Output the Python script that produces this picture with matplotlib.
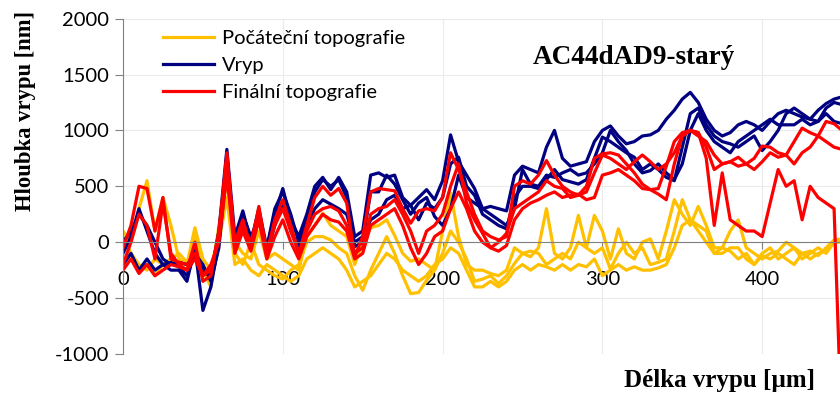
import numpy as np
import matplotlib
matplotlib.use("Agg")
import matplotlib.pyplot as plt

plt.rcParams["axes.unicode_minus"] = False

# scratch position [um], 5 um step
delka = np.arange(0, 451, 5)

# Počáteční topografie (3 scratches) [nm]
poc_1 = [100, 0, 300, 550, 100, 400, 150, -150, -200, 130, -150, -250, 100, 650, 0, -100, -150, 100, -150, -100,
         -150, -200, -250, 50, 150, 260, 150, 100, 50, -200, 0, 130, 150, 200, 60, -100, -170, -150, -200, -250,
         100, 440, 50, -200, -250, -250, -280, -300, -250, -50, -100, -130, -50, 300, -100, -150, -50, 240, -50, 240,
         100, -150, 120, -100, -150, 0, 30, -150, 100, 380, 250, 150, 320, 150, -50, -50, 100, 200, -50, -100,
         -150, -100, -80, 0, -50, -100, -80, -120, -50, 20, 30]
poc_2 = [50, -100, -200, -250, -150, -200, -150, -100, -180, 0, -250, -400, 150, 550, -100, -200, 0, -200, -250, -300,
         -330, -250, -200, 0, 50, 50, 20, -50, -100, -300, -430, -250, -100, 50, -100, -300, -460, -450, -340, -250,
         -100, 100, 0, -150, -350, -330, -300, -370, -300, -190, -100, -80, -100, -200, -150, -100, -150, 0, -50, -100,
         -50, -240, -100, 0, -100, -50, -200, -180, -150, 100, 380, 200, 100, 0, -100, -50, -80, -150, -100, -200,
         -100, -50, -150, -100, -50, -150, -100, -50, -100, 0, 0]
poc_3 = [-200, -100, -250, -200, -300, -200, -150, -200, -250, 50, -300, -300, 0, 400, -200, -150, -250, -300, -200, -250,
         -300, -350, -300, -150, -100, -50, -100, -150, -250, -400, -350, -300, -200, -100, -150, -250, -300, -350, -300, -200,
         -150, -50, -100, -250, -400, -400, -350, -400, -350, -250, -200, -250, -200, -220, -250, -200, -250, -200, -220, -150,
         -300, -250, -200, -250, -220, -250, -250, -230, -200, -50, 150, 200, 150, 100, -100, -100, -50, -50, -150, -200,
         -120, -150, -100, -150, -200, -100, -150, -100, -80, 0, 20]

# Vryp (3 scratches) [nm]
vryp_1 = [0, 100, 250, 150, 0, -150, -200, -180, -200, -150, -250, -300, 100, 830, 50, 280, 0, 300, -50, 250,
          480, 200, 50, 250, 500, 580, 470, 580, 450, 50, 100, 600, 620, 580, 600, 400, 330, 400, 470, 380,
          550, 960, 720, 600, 480, 300, 320, 300, 280, 600, 680, 650, 620, 850, 1000, 750, 680, 700, 720, 900,
          1000, 1040, 950, 880, 900, 950, 960, 1000, 1100, 1180, 1280, 1340, 1250, 1100, 1000, 950, 980, 1050, 1080, 1050,
          1000, 1080, 1150, 1180, 1150, 1120, 1100, 1180, 1240, 1280, 1300]
vryp_2 = [-100, 50, 300, 100, -100, -200, -180, -220, -300, -100, -200, -350, -50, 700, 0, 150, -50, 250, -100, 150,
          350, 100, -50, 150, 300, 380, 340, 300, 250, 0, 50, 200, 250, 380, 420, 300, 330, 200, 350, 300,
          400, 700, 760, 500, 420, 250, 200, 150, 120, 400, 500, 500, 480, 560, 650, 560, 540, 520, 560, 750,
          940, 900, 850, 800, 760, 650, 700, 650, 580, 550, 850, 1150, 1200, 1050, 950, 900, 880, 850, 900, 950,
          820, 900, 1000, 1150, 1200, 1150, 1100, 1080, 1150, 1080, 1060]
vryp_3 = [-200, -100, -250, -150, -250, -200, -250, -250, -350, -50, -610, -400, 0, 780, -50, 250, 50, 200, -50, 300,
          450, 250, 0, 200, 450, 560, 500, 560, 400, -40, 0, 450, 450, 600, 520, 380, 250, 350, 400, 230,
          150, 300, 600, 400, 350, 300, 250, 200, 150, 300, 650, 520, 500, 600, 580, 620, 650, 600, 620, 700,
          800, 1000, 900, 820, 700, 620, 640, 700, 620, 560, 700, 1000, 1150, 1000, 900, 850, 800, 900, 950, 1000,
          1050, 1100, 1050, 1050, 1050, 1100, 1050, 1080, 1200, 1250, 1230]

# Finální topografie (3 scratches) [nm]
fin_1 = [-50, 150, 500, 480, 100, 400, -150, -180, -200, -100, -300, -250, 50, 800, 0, 200, -50, 320, -100, 200,
         380, 150, -100, 150, 400, 500, 420, 480, 350, -130, 50, 450, 480, 470, 460, 300, 170, 280, 300, 280,
         400, 800, 650, 450, 250, 100, 50, 20, 50, 500, 550, 520, 600, 730, 600, 500, 450, 420, 500, 750,
         790, 800, 780, 700, 620, 520, 470, 480, 680, 900, 980, 1000, 950, 900, 780, 700, 720, 760, 700, 750,
         860, 850, 800, 780, 900, 1020, 980, 950, 1080, 1060, 1000]
fin_2 = [-200, 0, 250, 150, -150, 350, -100, -200, -250, 0, -350, -300, 100, 750, -50, 150, 0, 280, -80, 150,
         300, 100, -100, 100, 250, 300, 320, 280, 150, -100, -50, 250, 300, 320, 380, 250, 100, -100, 100, 150,
         250, 500, 700, 350, 200, 80, -50, 0, 80, 300, 350, 400, 450, 550, 500, 480, 400, 420, 450, 620,
         780, 750, 700, 650, 720, 780, 720, 650, 700, 800, 950, 1000, 980, 850, 650, 700, 720, 680, 700, 650,
         720, 800, 760, 780, 700, 800, 850, 950, 900, 850, 830]
fin_3 = [-250, -150, -280, -200, -300, -250, -200, -220, -250, -150, -300, -200, 0, 600, -100, 100, -80, 200, -150, 50,
         200, 0, -150, 50, 150, 250, 200, 180, 100, -150, -100, 150, 200, 250, 300, 150, -50, -200, -100, 50,
         100, 300, 450, 300, 100, 0, -50, -80, -30, 200, 300, 350, 380, 420, 450, 400, 420, 430, 380, 400,
         600, 620, 650, 600, 550, 480, 470, 430, 380, 700, 950, 1000, 980, 750, 150, 620, 200, 150, 100, 100,
         50, 350, 650, 500, 550, 200, 500, 400, 350, 300, -1800]

poc_color = "#FFC000"
vryp_color = "#000080"
fin_color = "#FF0000"

fig = plt.figure(figsize=(8.4, 3.94), dpi=100)
ax = fig.add_axes([123 / 840, 40 / 394, 1 - 123 / 840, 335.4 / 394])

lw = 2.3
for i, s in enumerate([poc_1, poc_2, poc_3]):
    ax.plot(delka, s, color=poc_color, lw=lw, label="Počáteční topografie" if i == 0 else None)
for i, s in enumerate([vryp_1, vryp_2, vryp_3]):
    ax.plot(delka, s, color=vryp_color, lw=lw, label="Vryp" if i == 0 else None)
for i, s in enumerate([fin_1, fin_2, fin_3]):
    ax.plot(delka, s, color=fin_color, lw=lw, label="Finální topografie" if i == 0 else None)

ax.set_xlim(0, 448.7)
ax.set_ylim(-1000, 2000)
ax.set_yticks(np.arange(-1000, 2001, 500))
ax.set_xticks([0, 100, 200, 300, 400])
ax.grid(True, color="#EBEBEB", lw=0.8)
ax.set_axisbelow(True)

for side in ["top", "right"]:
    ax.spines[side].set_visible(False)
ax.spines["bottom"].set_position(("data", 0))
ax.spines["bottom"].set_color("#808080")
ax.spines["left"].set_color("#808080")
ax.tick_params(axis="y", direction="out", length=6, color="#808080", labelsize=14.5, pad=4)
ax.tick_params(axis="x", direction="out", length=5, color="#808080", labelsize=14.5, pad=16)
for lab in ax.get_xticklabels() + ax.get_yticklabels():
    lab.set_fontfamily("Lato")

ax.legend(loc="upper left", bbox_to_anchor=(0.045, 0.99), frameon=False,
          prop={"family": "Lato", "size": 14.5}, handlelength=2.5, handletextpad=0.4,
          labelspacing=0.5, borderaxespad=0)

ax.text(0.713, 0.885, "AC44dAD9-starý", transform=ax.transAxes, ha="center", va="center",
        fontsize=19.5, fontweight="bold", family="Liberation Serif")

fig.text(0.03, 1 - 111 / 394, "Hloubka vrypu [nm]", rotation=90, ha="center", va="center",
         fontsize=16.3, fontweight="bold", family="Liberation Serif")
fig.text(815 / 840, 1 - 380 / 394, "Délka vrypu [µm]", ha="right", va="center",
         fontsize=18, fontweight="bold", family="Liberation Serif")

fig.savefig("out.png", dpi=100)
